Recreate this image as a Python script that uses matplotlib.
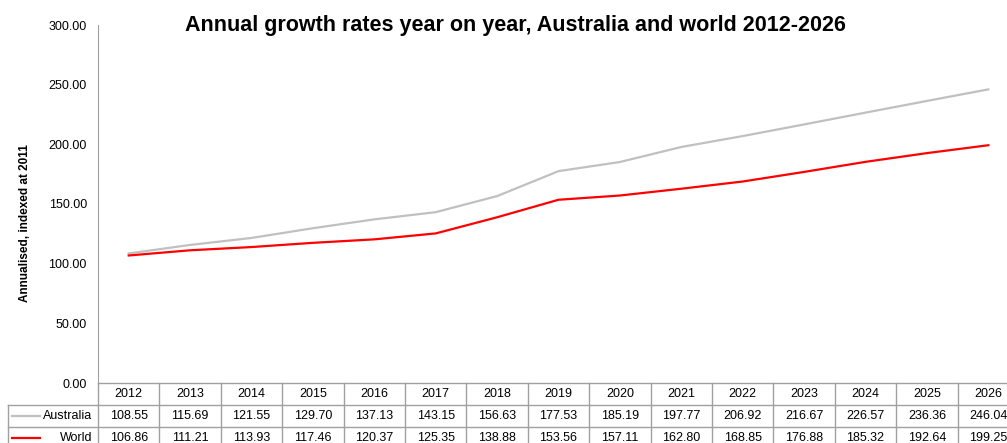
import matplotlib
matplotlib.use("Agg")
import matplotlib.pyplot as plt
from matplotlib.lines import Line2D

plt.rcParams['font.family'] = ['Liberation Sans', 'DejaVu Sans']

years = ["2012", "2013", "2014", "2015", "2016", "2017", "2018", "2019",
         "2020", "2021", "2022", "2023", "2024", "2025", "2026"]
australia = [108.55, 115.69, 121.55, 129.70, 137.13, 143.15, 156.63, 177.53,
             185.19, 197.77, 206.92, 216.67, 226.57, 236.36, 246.04]
world = [106.86, 111.21, 113.93, 117.46, 120.37, 125.35, 138.88, 153.56,
         157.11, 162.80, 168.85, 176.88, 185.32, 192.64, 199.25]
series_names = ["Australia", "World"]
series_colors = ["#c0c0c0", "#ff0000"]
yticks = [0, 50, 100, 150, 200, 250, 300]

W, H = 1007, 443
fig = plt.figure(figsize=(W / 100, H / 100), dpi=100)
left_px, right_px, top_px, bot_px = 98, 1019, 25, 383
ax = fig.add_axes([left_px / W, (H - bot_px) / H, (right_px - left_px) / W, (bot_px - top_px) / H])

x = list(range(len(years)))
series = [australia, world]
for vals, col in zip(series, series_colors):
    ax.plot(x, vals, color=col, lw=1.6, solid_joinstyle='round')

ax.set_xlim(-0.5, len(years) - 0.5)
ax.set_ylim(0, 300)
ax.set_yticks(yticks)
ax.set_yticklabels([f"{v:.2f}" for v in yticks], fontsize=9)
ax.set_xticks([])
for s in ["top", "right", "bottom"]:
    ax.spines[s].set_visible(False)
ax.spines["left"].set_color("#a0a0a0")
ax.tick_params(axis='y', length=0, pad=8)

fig.text(25 / W, 1 - 223 / H, "Annualised, indexed at 2011", rotation=90,
         ha='center', va='center', fontsize=8.5, fontweight='bold')

fig.text(515 / W, 1 - 25 / H, "Annual growth rates year on year, Australia and world 2012-2026",
         ha='center', va='center', fontsize=15.5, fontweight='bold')

# data table
ax_h = bot_px - top_px
rh = 22 / ax_h  # row height in axes fraction
colw_px = (right_px - left_px) / len(years)
label_left = -0.5 - (left_px - 8) / colw_px
gc = "#a0a0a0"
tr = ax.get_xaxis_transform()
nrow = 1 + len(series)

def hline(y, x0, x1):
    ax.add_line(Line2D([x0, x1], [y, y], transform=tr, color=gc, lw=1, clip_on=False))

def vline(xx, y0, y1):
    ax.add_line(Line2D([xx, xx], [y0, y1], transform=tr, color=gc, lw=1, clip_on=False))

xr = len(years) - 0.5
for r in range(nrow + 1):
    x0 = -0.5 if r == 0 else label_left
    hline(-r * rh, x0, xr)
for c in range(len(years) + 1):
    vline(c - 0.5, 0, -nrow * rh)
vline(label_left, -rh, -nrow * rh)

for i, yv in enumerate(years):
    ax.text(i, -0.5 * rh, yv, transform=tr, ha='center', va='center', fontsize=9, clip_on=False)
for r, (name, vals, col) in enumerate(zip(series_names, series, series_colors), start=1):
    yc = -(r + 0.5) * rh
    for i, v in enumerate(vals):
        ax.text(i, yc, f"{v:.2f}", transform=tr, ha='center', va='center', fontsize=9, clip_on=False)
    ax.text(-0.5 - 6 / colw_px, yc, name, transform=tr, ha='right', va='center', fontsize=9, clip_on=False)
    lx0 = label_left + 4 / colw_px
    ax.add_line(Line2D([lx0, lx0 + 28 / colw_px], [yc, yc], transform=tr, color=col, lw=1.6, clip_on=False))

fig.savefig("out.png", dpi=100)
